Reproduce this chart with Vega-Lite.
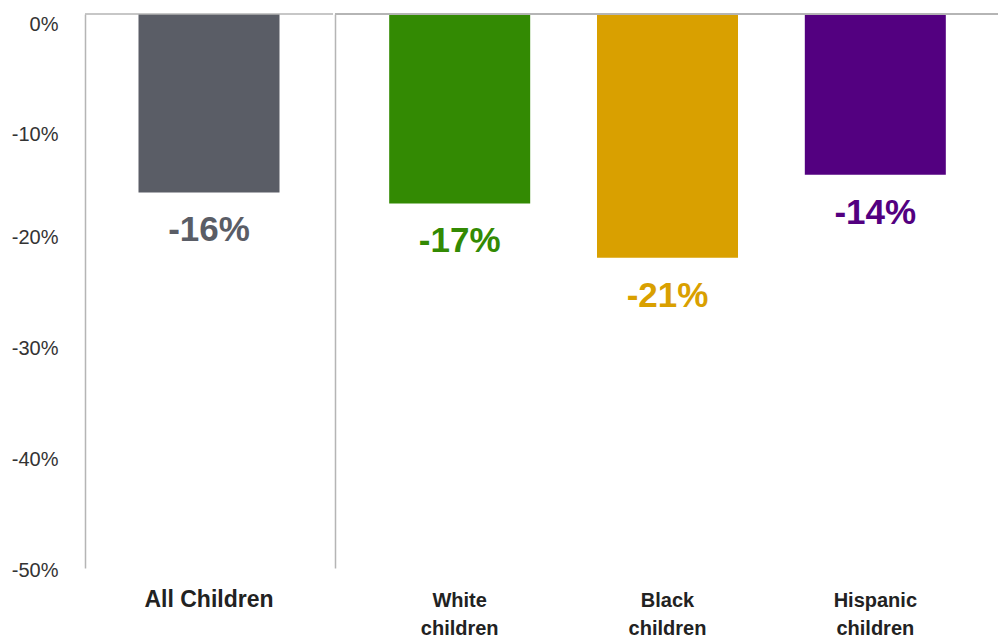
{
  "$schema": "https://vega.github.io/schema/vega-lite/v6.json",
  "padding": {"left": 0, "top": 13, "right": 0, "bottom": 0},
  "background": "white",
  "spacing": 0,
  "config": {"view": {"stroke": null}, "font": "Liberation Sans", "concat": {"spacing": 0}},
  "datasets": {
    "d": [
      {"group": "All Children", "change": -16.1, "label": "-16%", "panel": "all"},
      {"group": "White children", "change": -17.1, "label": "-17%", "panel": "race"},
      {"group": "Black children", "change": -22.0, "label": "-21%", "panel": "race"},
      {"group": "Hispanic children", "change": -14.5, "label": "-14%", "panel": "race"}
    ]
  },
  "hconcat": [
    {
      "width": 248,
      "height": 554,
      "data": {"name": "d"},
      "transform": [{"filter": "datum.panel == 'all'"}],
      "encoding": {
        "x": {"field": "group", "type": "nominal", "sort": null,
          "scale": {"paddingInner": 0, "paddingOuter": 0},
          "axis": {"title": null, "domain": false, "ticks": false, "labelAngle": 0, "labelFontWeight": "bold", "labelFontSize": 23, "labelColor": "#222222", "labelPadding": 20, "labelLineHeight": 28}},
        "y": {"field": "change", "type": "quantitative",
          "scale": {"domain": [-50, 0], "nice": false},
          "axis": {"title": null, "values": [0, -10, -20, -30, -40, -50], "labelExpr": "datum.value + '%'", "ticks": false, "grid": false, "domain": true, "domainColor": "#b5b5b5", "domainWidth": 1.5, "labelFontSize": 20, "labelColor": "#333333", "labelPadding": 27, "minExtent": 85, "maxExtent": 85,
            "labelOffset": {"condition": {"test": "datum.value >= -10", "value": 10}, "value": 2}}},
        "color": {"field": "group", "type": "nominal", "legend": null,
          "scale": {"domain": ["All Children", "White children", "Black children", "Hispanic children"], "range": ["#5a5d66", "#338a03", "#d9a000", "#530080"]}}
      },
      "layer": [
        {"mark": {"type": "bar", "width": 141}},
        {"mark": {"type": "text", "dy": 38, "fontSize": 35, "fontWeight": "bold", "baseline": "middle"},
          "encoding": {"text": {"field": "label"}}},
        {"mark": {"type": "rule", "color": "#b5b5b5", "strokeWidth": 1.5},
          "encoding": {"x": null, "color": null, "y": {"datum": 0, "type": "quantitative"}}}
      ]
    },
    {
      "width": 665,
      "height": 554,
      "data": {"name": "d"},
      "transform": [{"filter": "datum.panel == 'race'"}],
      "encoding": {
        "x": {"field": "group", "type": "nominal", "sort": null,
          "scale": {"paddingInner": 0, "paddingOuter": 0.1},
          "axis": {"title": null, "domain": false, "ticks": false, "labelAngle": 0, "labelFontWeight": "bold", "labelFontSize": 20, "labelColor": "#222222", "labelPadding": 22, "labelLineHeight": 28, "labelExpr": "split(datum.label, ' ')"}},
        "y": {"field": "change", "type": "quantitative",
          "scale": {"domain": [-50, 0], "nice": false},
          "axis": {"title": null, "labels": false, "ticks": false, "grid": false, "domain": true, "domainColor": "#b5b5b5", "domainWidth": 1.5, "minExtent": 0, "maxExtent": 0}},
        "color": {"field": "group", "type": "nominal", "legend": null,
          "scale": {"domain": ["All Children", "White children", "Black children", "Hispanic children"], "range": ["#5a5d66", "#338a03", "#d9a000", "#530080"]}}
      },
      "layer": [
        {"mark": {"type": "bar", "width": 141}},
        {"mark": {"type": "text", "dy": 38, "fontSize": 35, "fontWeight": "bold", "baseline": "middle"},
          "encoding": {"text": {"field": "label"}}},
        {"mark": {"type": "rule", "color": "#b5b5b5", "strokeWidth": 1.5},
          "encoding": {"x": null, "color": null, "y": {"datum": 0, "type": "quantitative"}}}
      ]
    }
  ]
}
